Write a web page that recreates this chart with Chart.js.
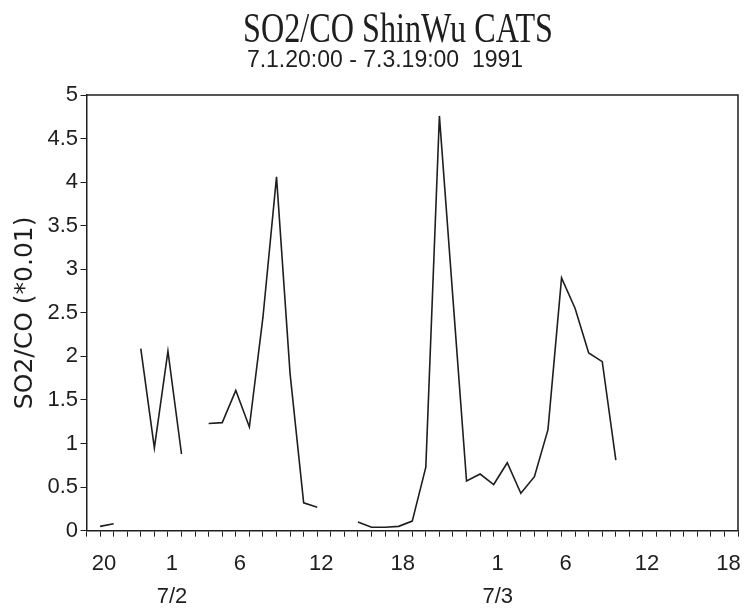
<!DOCTYPE html>
<html>
<head>
<meta charset="utf-8">
<script src="https://cdn.jsdelivr.net/npm/chart.js@4/dist/chart.umd.min.js"></script>
<style>
  html, body { margin: 0; padding: 0; background: #fff; }
  #wrap { width: 749px; height: 611px; }
</style>
</head>
<body>
<div id="wrap"><canvas id="chart" width="749" height="611"></canvas></div>
<script>
// SO2/CO ratio, hourly, 19:00 7/1 .. 19:00 7/3 1991
const titleText = 'SO2/CO ShinWu CATS';
const subtitleText = '7.1.20:00 - 7.3.19:00  1991';
const yTitle = 'SO2/CO (*0.01)';

// hour of day for every category on the x axis
const hours = [19, 20, 21, 22, 23,
  0, 1, 2, 3, 4, 5, 6, 7, 8, 9, 10, 11, 12, 13, 14, 15, 16, 17, 18, 19, 20, 21, 22, 23,
  0, 1, 2, 3, 4, 5, 6, 7, 8, 9, 10, 11, 12, 13, 14, 15, 16, 17, 18, 19];

// measured ratio, null = no data
const ratio = [null, 0.05, 0.08, null, 2.09, 0.95, 2.06, 0.88, null, 1.23,
  1.24, 1.61, 1.19, 2.45, 4.06, 1.80, 0.32, 0.27, null, null,
  0.10, 0.04, 0.04, 0.05, 0.11, 0.73, 4.76, 2.66, 0.57, 0.65,
  0.53, 0.78, 0.43, 0.62, 1.16, 2.90, 2.55, 2.04, 1.94, 0.81,
  null, null, null, null, null, null, null, null, null];

// which categories get a printed hour, and the date lines under them
const tickIndex = [1, 6, 11, 17, 23, 30, 35, 41, 47];
const dayIndex = [6, 30];
const dayLabels = ['7/2', '7/3'];

const yTicks = [0, 0.5, 1, 1.5, 2, 2.5, 3, 3.5, 4, 4.5, 5];

const ink = '#1e1e1e';

const frame = {
  id: 'frame',
  afterDraw(chart) {
    const { ctx, chartArea: a } = chart;
    ctx.save();
    ctx.strokeStyle = ink;
    ctx.lineWidth = 1.5;
    ctx.beginPath();
    ctx.moveTo(a.left, a.top);
    ctx.lineTo(a.right, a.top);
    ctx.lineTo(a.right, a.bottom);
    ctx.stroke();

    // heading
    ctx.fillStyle = ink;
    ctx.textAlign = 'center';
    ctx.textBaseline = 'alphabetic';
    ctx.font = '42px "Liberation Serif"';
    const w = ctx.measureText(titleText).width;
    ctx.save();
    ctx.translate(398, 42);
    ctx.scale(310 / w, 1);
    ctx.fillText(titleText, 0, 0);
    ctx.restore();

    ctx.font = '23px "Liberation Sans"';
    ctx.fillText(subtitleText, 385, 67);
    ctx.restore();
  }
};

new Chart(document.getElementById('chart'), {
  type: 'line',
  data: {
    labels: hours,
    datasets: [{
      label: 'SO2/CO',
      data: ratio,
      borderColor: ink,
      borderWidth: 1.6,
      pointRadius: 0,
      tension: 0,
      spanGaps: false,
      fill: false
    }]
  },
  options: {
    responsive: false,
    animation: false,
    layout: { padding: { top: 95, right: 7, left: 0, bottom: 0 } },
    plugins: {
      legend: { display: false },
      tooltip: { enabled: false }
    },
    scales: {
      x: {
        type: 'category',
        offset: false,
        afterFit(scale) { scale.height = 80.3; },
        border: { display: true, color: ink, width: 1.5 },
        grid: { display: true, drawOnChartArea: false, drawTicks: true, tickLength: 6, color: ink, offset: false },
        ticks: {
          autoSkip: false,
          maxRotation: 0,
          padding: 11,
          labelOffset: 4,
          color: ink,
          font: { family: 'Liberation Sans', size: 22, lineHeight: 1.5 },
          callback(value, index) {
            if (!tickIndex.includes(index)) return '';
            const h = String(hours[index]);
            const d = dayIndex.indexOf(index);
            return d >= 0 ? [h, dayLabels[d]] : h;
          }
        }
      },
      y: {
        min: 0,
        max: 5,
        afterFit(scale) { scale.width = 86.5; },
        afterBuildTicks(scale) { scale.ticks = yTicks.map(v => ({ value: v })); },
        border: { display: true, color: ink, width: 1.5 },
        grid: { display: true, drawOnChartArea: false, drawTicks: true, tickLength: 6, color: ink },
        ticks: {
          padding: 2.5,
          color: ink,
          font: { family: 'Liberation Sans', size: 22 },
          callback: v => String(v)
        },
        title: {
          display: true,
          text: yTitle,
          color: ink,
          font: { family: 'DejaVu Sans', size: 25 },
          padding: { top: 10, bottom: 0 }
        }
      }
    }
  },
  plugins: [frame]
});
</script>
</body>
</html>
